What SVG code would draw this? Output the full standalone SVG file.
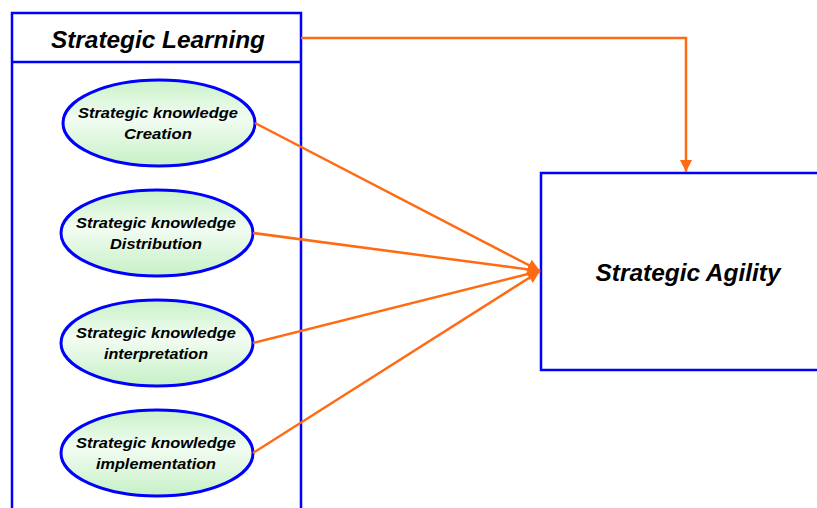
<svg xmlns="http://www.w3.org/2000/svg" width="817" height="508" viewBox="0 0 817 508">
<defs>
<linearGradient id="g" x1="0" y1="0" x2="0" y2="1">
<stop offset="0" stop-color="#c8f2c8"/>
<stop offset="0.45" stop-color="#f2fcf2"/>
<stop offset="1" stop-color="#c6f0c6"/>
</linearGradient>
<marker id="ah" viewBox="0 0 10 10" refX="10" refY="5" markerWidth="5" markerHeight="5" markerUnits="strokeWidth" orient="auto">
<path d="M0,0 L10,5 L0,10 z" fill="#ff6a13"/>
</marker>
</defs>
<style>
.box{fill:#ffffff;stroke:#0000ff;stroke-width:2.5}
.ell{fill:url(#g);stroke:#0000ff;stroke-width:3}
.t{font-family:"Liberation Sans",Arial,sans-serif;font-weight:bold;font-style:italic;fill:#000;text-anchor:middle}
.big{font-size:24px}
.sm{font-size:15px}
.c{fill:none;stroke:#ff6a13;stroke-width:2.5}
</style>
<rect width="817" height="508" fill="#ffffff"/>
<g id="strategic-learning">
<rect class="box" x="12" y="13" width="289" height="510"/>
<line x1="12" y1="62" x2="301" y2="62" stroke="#0000ff" stroke-width="2.5"/>
<text class="t big" x="158" y="48" textLength="214" lengthAdjust="spacingAndGlyphs">Strategic Learning</text>
</g>
<g id="creation">
<ellipse class="ell" cx="159" cy="123" rx="96" ry="43"/>
<text class="t sm" x="158" y="118" textLength="160" lengthAdjust="spacingAndGlyphs">Strategic knowledge</text>
<text class="t sm" x="158" y="139" textLength="68" lengthAdjust="spacingAndGlyphs">Creation</text>
</g>
<g id="distribution">
<ellipse class="ell" cx="157" cy="233" rx="96" ry="43"/>
<text class="t sm" x="156" y="228" textLength="160" lengthAdjust="spacingAndGlyphs">Strategic knowledge</text>
<text class="t sm" x="156" y="249" textLength="92" lengthAdjust="spacingAndGlyphs">Distribution</text>
</g>
<g id="interpretation">
<ellipse class="ell" cx="157" cy="343" rx="96" ry="43"/>
<text class="t sm" x="156" y="338" textLength="160" lengthAdjust="spacingAndGlyphs">Strategic knowledge</text>
<text class="t sm" x="156" y="359" textLength="104" lengthAdjust="spacingAndGlyphs">interpretation</text>
</g>
<g id="implementation">
<ellipse class="ell" cx="157" cy="453" rx="96" ry="43"/>
<text class="t sm" x="156" y="448" textLength="160" lengthAdjust="spacingAndGlyphs">Strategic knowledge</text>
<text class="t sm" x="156" y="469" textLength="120" lengthAdjust="spacingAndGlyphs">implementation</text>
</g>
<g id="strategic-agility">
<rect class="box" x="541" y="173" width="290" height="197"/>
<text class="t big" x="688" y="281" textLength="185" lengthAdjust="spacingAndGlyphs">Strategic Agility</text>
</g>
<g id="connectors">
<path class="c" d="M301,38 H686 V172" marker-end="url(#ah)"/>
<line class="c" x1="255" y1="123" x2="540" y2="271" marker-end="url(#ah)"/>
<line class="c" x1="253" y1="233" x2="540" y2="271" marker-end="url(#ah)"/>
<line class="c" x1="253" y1="343" x2="540" y2="271" marker-end="url(#ah)"/>
<line class="c" x1="253" y1="453" x2="540" y2="271" marker-end="url(#ah)"/>
</g>
</svg>
